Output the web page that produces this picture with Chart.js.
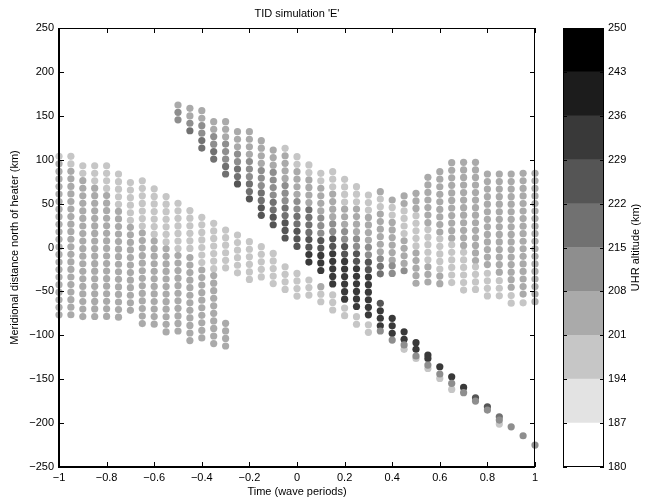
<!DOCTYPE html>
<html>
<head>
<meta charset="utf-8">
<title>TID simulation 'E'</title>
<script src="https://cdn.jsdelivr.net/npm/chart.js@4.4.1/dist/chart.umd.min.js"></script>
<style>
  html, body { margin: 0; padding: 0; background: #fff; }
  #wrap { position: relative; width: 645px; height: 502px; }
  #wrap canvas { position: absolute; left: 0; top: 0; }
</style>
</head>
<body>
<div id="wrap">
  <canvas id="main" width="645" height="502"></canvas>
  <canvas id="cbar" width="645" height="502"></canvas>
</div>
<script>
// Axis ticks
const timeTicks = [-1, -0.8, -0.6, -0.4, -0.2, 0, 0.2, 0.4, 0.6, 0.8, 1];
const distTicks = [-250, -200, -150, -100, -50, 0, 50, 100, 150, 200, 250];

// Colour bar: altitude bin edges (km) and grey level of each bin
const altEdges = [180, 187, 194, 201, 208, 215, 222, 229, 236, 243, 250];
const altGrays = [255, 227, 198, 170, 142, 113, 85, 57, 28, 0];

// spacing of the samples inside one column (km)
const SAMPLE_STEP = 8.6;

// Columns as runs: [time, top km, bottom km, UHR altitude km]
const leftBlock = [
    [-1, 103.8, 103.8, 198], [-1, 95.3, -77.5, 205],
    [-0.95, 103.8, 95.3, 198], [-0.95, 86.8, -78, 205],
    [-0.9, 93.1, 84.6, 198], [-0.9, 76.1, -78, 205],
    [-0.85, 93.1, 76.1, 198], [-0.85, 67.6, -76.3, 205],
    [-0.8, 93.1, 67.6, 198], [-0.8, 59.1, -76.3, 205],
    [-0.75, 83.6, 49.6, 198], [-0.75, 41.1, -75.6, 205],
    [-0.7, 74, 31.5, 198], [-0.7, 23, -75.6, 205],
    [-0.65, 76, 25, 198], [-0.65, 16.5, -85, 205],
    [-0.6, 66.8, 15.8, 198], [-0.6, 7.3, -85, 205],
    [-0.55, 58, 7, 198], [-0.55, -1.5, -93.9, 205],
    [-0.5, 50.4, -0.6, 198], [-0.5, -9.1, -92.7, 205],
    [-0.45, 42, -2.9, 198], [-0.45, -11.4, -103, 205],
    [-0.4, 34.4, -17.1, 198], [-0.4, -25.6, -103, 205],
    [-0.35, 27.5, -23.5, 198], [-0.35, -32, -113.7, 205],
    [-0.3, 19.8, -25.6, 198], [-0.3, -86.4, -113.7, 205]
];

const lightBand = [
    [-0.25, 14.2, -25.6, 198],
    [-0.2, 6.6, -33.2, 198],
    [-0.15, 0.9, -33.2, 198],
    [-0.1, -6.7, -40.8, 198],
    [-0.05, -21.9, -48.4, 198],
    [0, -29.5, -56, 198],
    [0.05, -37, -56, 198],
    [0.1, -44.6, -44.6, 205], [0.1, -53.2, -63.5, 198],
    [0.15, -54, -71, 198],
    [0.2, -69, -80, 198],
    [0.25, -78.8, -88, 198],
    [0.3, -88, -97.6, 198]
];

const diagonalBand = [
    [-0.5, 162.3, 162.3, 205], [-0.5, 154, 146, 212],
    [-0.45, 158.5, 150, 205], [-0.45, 141.5, 141.5, 212], [-0.45, 133, 133, 219],
    [-0.4, 155.8, 147.3, 205], [-0.4, 138.8, 130.3, 212], [-0.4, 121.8, 113.3, 219],
    [-0.35, 143.3, 134.8, 205], [-0.35, 126.3, 117.8, 212], [-0.35, 109.3, 100.8, 219],
    [-0.3, 143.3, 126.3, 205], [-0.3, 117.8, 100.8, 212], [-0.3, 92.3, 84, 219],
    [-0.25, 131.9, 114.9, 205], [-0.25, 106.4, 97.9, 212], [-0.25, 89.4, 80.9, 219], [-0.25, 72.4, 72.4, 226],
    [-0.2, 131.9, 106.4, 205], [-0.2, 97.9, 81, 212], [-0.2, 72.4, 64, 219], [-0.2, 55.4, 55.4, 226],
    [-0.15, 121.7, 96.2, 205], [-0.15, 87.7, 70.7, 212], [-0.15, 62.2, 53.7, 219], [-0.15, 45.2, 36.7, 226],
    [-0.1, 111, 94, 205], [-0.1, 85.5, 60, 212], [-0.1, 51.5, 43, 219], [-0.1, 34.5, 26, 226],
    [-0.05, 113, 113, 198], [-0.05, 104.5, 79, 205], [-0.05, 70.5, 53.5, 212], [-0.05, 45, 36.5, 219], [-0.05, 28, 11, 226],
    [0, 103.4, 94.9, 198], [0, 86.4, 60.9, 205], [0, 52.4, 43.9, 212], [0, 35.4, 26.9, 219], [0, 18.4, 1.4, 226],
    [0.05, 94, 85.5, 198], [0.05, 77, 51.5, 205], [0.05, 43, 17.5, 219], [0.05, 9, 0.5, 226], [0.05, -8, -16.5, 233],
    [0.1, 84.5, 76, 198], [0.1, 67.5, 42, 205], [0.1, 33.5, 16.5, 212], [0.1, 8, -0.5, 226], [0.1, -9, -26, 233],
    [0.15, 86.4, 69.4, 198], [0.15, 60.9, 35.4, 205], [0.15, 26.9, 18.4, 212], [0.15, 9.9, 1.4, 226], [0.15, -7.1, -41.1, 233],
    [0.2, 77.6, 52.1, 198], [0.2, 43.6, 26.6, 205], [0.2, 18.1, 9.6, 212], [0.2, 1.1, -7.4, 226], [0.2, -15.9, -58.4, 233],
    [0.25, 69.3, 52.3, 198], [0.25, 43.8, 18.3, 205], [0.25, 9.8, 1.3, 212], [0.25, -7.2, -15.7, 226], [0.25, -24.2, -66.7, 233],
    [0.3, 59.8, 42.8, 198], [0.3, 34.3, 8.8, 205], [0.3, 0.3, -8.2, 212], [0.3, -16.7, -25.2, 226], [0.3, -33.7, -76.2, 233]
];

const rightBlock = [
    [0.35, 63.6, 63.6, 205], [0.35, 55.1, 46.6, 198], [0.35, 38.1, -4.4, 205], [0.35, -12.9, -12.9, 212], [0.35, -21.4, -29.9, 219],
    [0.4, 54.1, 54.1, 205], [0.4, 45.6, 37.1, 198], [0.4, 28.6, -12.4, 205], [0.4, -20.9, -29.4, 212],
    [0.45, 58.7, 50.2, 205], [0.45, 41.7, 16.2, 198], [0.45, 7.7, -18, 205], [0.45, -26.5, -26.5, 212],
    [0.5, 61.7, 44.7, 205], [0.5, 36.2, 2.2, 198], [0.5, -6.3, -40.3, 205],
    [0.55, 79.9, 28.9, 205], [0.55, 20.4, -13.6, 198], [0.55, -22.1, -39.1, 205],
    [0.6, 86.4, 18.4, 205], [0.6, 9.9, -24.1, 198], [0.6, -32.6, -41.1, 205],
    [0.65, 96.6, 11.6, 205], [0.65, 3.1, -39.4, 198],
    [0.7, 97, 3, 205], [0.7, -5.5, -48.5, 198],
    [0.75, 97, -13.5, 205], [0.75, -22, -47.5, 198],
    [0.8, 83.7, -20.8, 205], [0.8, -29.3, -54.8, 198],
    [0.85, 83.7, -29.3, 205], [0.85, -37.8, -54.8, 198],
    [0.9, 83.7, -46.3, 205], [0.9, -54.8, -63.3, 198],
    [0.95, 84.5, -54.5, 205], [0.95, -63, -63, 198],
    [1, 84.5, -63, 205]
];

// single samples of the descending tail: [time, km, altitude]
const tail = [
    [0.35, -63.6, 226], [0.35, -72.1, 233], [0.35, -80.6, 233], [0.35, -89.1, 233], [0.35, -95.1, 212],
    [0.4, -80.7, 233], [0.4, -89.2, 233], [0.4, -97.7, 233], [0.4, -105.4, 212],
    [0.45, -96, 233], [0.45, -104.5, 233], [0.45, -116, 198], [0.45, -111, 212],
    [0.5, -108.4, 233], [0.5, -116, 233], [0.5, -126.3, 198], [0.5, -123.6, 212],
    [0.55, -122.5, 233], [0.55, -126.3, 233], [0.55, -137.7, 198], [0.55, -133.9, 212],
    [0.6, -135.8, 233], [0.6, -149.1, 198], [0.6, -144.1, 212],
    [0.65, -147.2, 233], [0.65, -161.6, 198], [0.65, -154.8, 212],
    [0.7, -159.4, 233], [0.7, -165.4, 212],
    [0.75, -171.1, 226], [0.75, -174.9, 212],
    [0.8, -181.4, 226], [0.8, -185.2, 212],
    [0.85, -192.8, 219], [0.85, -201.1, 198], [0.85, -196.6, 212],
    [0.9, -204.2, 212],
    [0.95, -214.4, 212],
    [1, -225, 212]
];

const FONT = '"Liberation Sans", Arial, Helvetica, sans-serif';
Chart.defaults.font.family = FONT;
Chart.defaults.font.size = 11;
Chart.defaults.color = "#000";

// Helper: altitude -> grey of its colour bar bin
function grayFor(alt) {
    let i = 0;
    while (i < altGrays.length - 1 && alt >= altEdges[i + 1]) i++;
    const g = altGrays[i];
    return `rgb(${g},${g},${g})`;
}

function runsToPoints(runs) {
    const pts = [];
    runs.forEach(([t, top, bottom, alt]) => {
        for (let y = top; y >= bottom - 4; y -= SAMPLE_STEP) {
            pts.push({ x: t, y: y, alt: alt });
        }
    });
    return pts;
}

const points = [
    ...runsToPoints(leftBlock),
    ...runsToPoints(lightBand),
    ...runsToPoints(diagonalBand),
    ...runsToPoints(rightBlock),
    ...tail.map(([t, y, alt]) => ({ x: t, y: y, alt: alt }))
];

function fmtTick(v) {
    const r = Math.round(v * 10) / 10;
    return r < 0 ? "\u2212" + String(-r) : String(r);
}

// Box, inward ticks and texts of the main axes
const mainFrame = {
    id: "mainFrame",
    afterDraw(chart) {
        const { ctx, chartArea: a, scales } = chart;
        ctx.save();
        ctx.strokeStyle = "#000";
        ctx.lineWidth = 1;
        ctx.beginPath();
        ctx.moveTo(a.left, a.top + 0.5); ctx.lineTo(a.right - 0.5, a.top + 0.5);
        ctx.lineTo(a.right - 0.5, a.bottom);
        ctx.stroke();
        ctx.lineWidth = 2;
        ctx.beginPath();
        ctx.moveTo(a.left, a.top); ctx.lineTo(a.left, a.bottom);
        ctx.lineTo(a.right, a.bottom);
        ctx.stroke();

        ctx.lineWidth = 1;
        ctx.beginPath();
        timeTicks.forEach(v => {
            const px = Math.round(scales.x.getPixelForValue(v)) + 0.5;
            ctx.moveTo(px, a.bottom); ctx.lineTo(px, a.bottom - 5);
            ctx.moveTo(px, a.top); ctx.lineTo(px, a.top + 5);
        });
        distTicks.forEach(v => {
            const py = Math.round(scales.y.getPixelForValue(v)) + 0.5;
            ctx.moveTo(a.left, py); ctx.lineTo(a.left + 5, py);
            ctx.moveTo(a.right, py); ctx.lineTo(a.right - 5, py);
        });
        ctx.stroke();

        ctx.fillStyle = "#000";
        ctx.font = "11px " + FONT;
        ctx.textAlign = "center";
        ctx.textBaseline = "middle";
        ctx.fillText("TID simulation 'E'", (a.left + a.right) / 2, 14);
        ctx.fillText("Time (wave periods)", (a.left + a.right) / 2, 492);
        ctx.translate(15, (a.top + a.bottom) / 2);
        ctx.rotate(-Math.PI / 2);
        ctx.fillText("Meridional distance north of heater (km)", 0, 0);
        ctx.restore();
    }
};

new Chart(document.getElementById("main"), {
    type: "scatter",
    data: {
        datasets: [{
            data: points,
            pointRadius: 3.6,
            pointHoverRadius: 3.6,
            borderWidth: 0,
            backgroundColor: c => grayFor(c.raw ? c.raw.alt : 205),
            clip: false
        }]
    },
    options: {
        responsive: false,
        animation: false,
        events: [],
        layout: { padding: { top: 28, right: 110, left: 0, bottom: 0 } },
        plugins: { legend: { display: false }, tooltip: { enabled: false } },
        scales: {
            x: {
                type: "linear",
                min: -1,
                max: 1,
                afterBuildTicks: s => { s.ticks = timeTicks.map(v => ({ value: v })); },
                afterFit: s => { s.height = 35; },
                grid: { display: false, drawTicks: false },
                border: { display: false },
                ticks: { padding: 4, maxRotation: 0, autoSkip: false, callback: fmtTick }
            },
            y: {
                type: "linear",
                min: -250,
                max: 250,
                afterBuildTicks: s => { s.ticks = distTicks.map(v => ({ value: v })); },
                afterFit: s => { s.width = 59; },
                grid: { display: false, drawTicks: false },
                border: { display: false },
                ticks: { padding: 5, autoSkip: false, callback: fmtTick }
            }
        }
    },
    plugins: [mainFrame]
});

// Colour bar
const barFrame = {
    id: "barFrame",
    afterDraw(chart) {
        const { ctx, chartArea: a, scales } = chart;
        ctx.save();
        ctx.strokeStyle = "#000";
        ctx.lineWidth = 1;
        ctx.strokeRect(a.left + 0.5, a.top + 0.5, a.right - a.left - 1, a.bottom - a.top - 1);
        ctx.beginPath();
        altEdges.forEach(v => {
            const py = Math.round(scales.y.getPixelForValue(v)) + 0.5;
            ctx.moveTo(a.left, py); ctx.lineTo(a.left + 4, py);
            ctx.moveTo(a.right, py); ctx.lineTo(a.right - 4, py);
        });
        ctx.stroke();
        ctx.fillStyle = "#000";
        ctx.font = "11px " + FONT;
        ctx.textAlign = "center";
        ctx.textBaseline = "middle";
        ctx.translate(636, (a.top + a.bottom) / 2);
        ctx.rotate(-Math.PI / 2);
        ctx.fillText("UHR altitude (km)", 0, 0);
        ctx.restore();
    }
};

new Chart(document.getElementById("cbar"), {
    type: "bar",
    data: {
        labels: ["alt"],
        datasets: altGrays.map((g, i) => ({
            data: [[altEdges[i], altEdges[i + 1]]],
            backgroundColor: `rgb(${g},${g},${g})`,
            borderWidth: 0,
            grouped: false,
            barPercentage: 1,
            categoryPercentage: 1
        }))
    },
    options: {
        responsive: false,
        animation: false,
        events: [],
        layout: { padding: { top: 28, left: 563, bottom: 35, right: 0 } },
        plugins: { legend: { display: false }, tooltip: { enabled: false } },
        scales: {
            x: { display: false },
            y: {
                position: "right",
                min: 180,
                max: 250,
                afterBuildTicks: s => { s.ticks = altEdges.map(v => ({ value: v })); },
                afterFit: s => { s.width = 41; },
                grid: { display: false, drawTicks: false },
                border: { display: false },
                ticks: { padding: 4, autoSkip: false }
            }
        }
    },
    plugins: [barFrame]
});
</script>
</body>
</html>
